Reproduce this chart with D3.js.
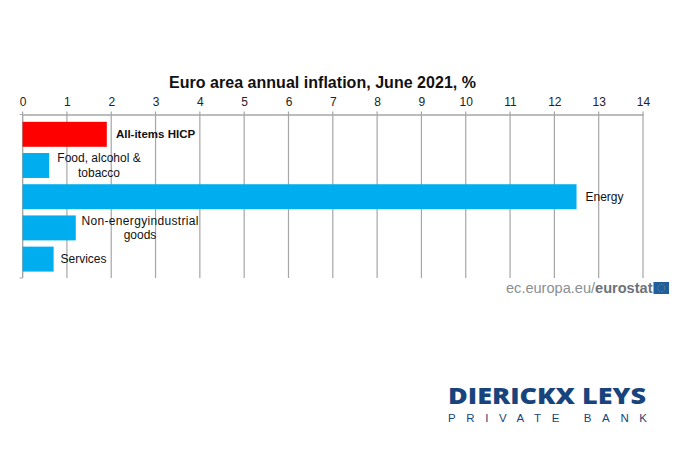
<!DOCTYPE html>
<html>
<head>
<meta charset="utf-8">
<script src="https://cdn.jsdelivr.net/npm/d3@7"></script>
<style>
  html, body { margin: 0; padding: 0; background: #fff; }
  text { font-family: "Liberation Sans", Arial, sans-serif; }
</style>
</head>
<body>
<div id="chart"></div>
<script>
// Values
const categories = ["All-items HICP", "Food, alcohol & tobacco", "Energy", "Non-energy industrial goods", "Services"];
const values = [1.9, 0.6, 12.5, 1.2, 0.7];
const xTicks = d3.range(0, 15);
const labelLines = [["All-items HICP"], ["Food, alcohol &", "tobacco"], ["Energy"], ["Non-energyindustrial", "goods"], ["Services"]];

const width = 679;
const height = 450;
const blue = "#00aeef";
const red = "#ff0000";
const grid = "#a6a6a6";

const svg = d3.select("#chart")
  .append("svg")
  .attr("width", width)
  .attr("height", height)
  .style("display", "block");

const x = d3.scaleLinear().domain([0, 14]).range([22.6, 643]);
const y = d3.scaleBand().domain(categories).range([118.7, 274.7]).paddingInner(0.2).paddingOuter(0.1);
const axisTop = 114.5;
const axisBottom = 278;

// Title
svg.append("text")
  .attr("x", 322.5)
  .attr("y", 88)
  .attr("text-anchor", "middle")
  .attr("font-size", 16)
  .attr("font-weight", "bold")
  .attr("fill", "#111")
  .attr("textLength", 307)
  .text("Euro area annual inflation, June 2021, %");

// Gridlines
svg.append("g")
  .selectAll("line")
  .data(xTicks)
  .enter()
  .append("line")
  .attr("x1", d => x(d))
  .attr("x2", d => x(d))
  .attr("y1", axisTop - 3)
  .attr("y2", axisBottom)
  .attr("stroke", grid)
  .attr("stroke-width", 1.2);

// Top axis
const xAxis = svg.append("g")
  .attr("transform", `translate(0,${axisTop})`)
  .call(d3.axisTop(x).tickValues(xTicks).tickSize(0).tickPadding(9).tickFormat(d3.format("d")));
xAxis.select(".domain").attr("stroke", grid).attr("stroke-width", 1.5);
xAxis.selectAll("text").attr("font-size", 12).attr("fill", "#222").style("font-family", '"Liberation Sans", Arial, sans-serif');

// Left axis stub with ticks
svg.append("line")
  .attr("x1", x(0)).attr("x2", x(0))
  .attr("y1", axisTop).attr("y2", axisBottom)
  .attr("stroke", grid).attr("stroke-width", 1.2);
svg.selectAll("line.stub")
  .data([axisTop, axisBottom])
  .enter()
  .append("line")
  .attr("class", "stub")
  .attr("x1", x(0) - 3).attr("x2", x(0))
  .attr("y1", d => d).attr("y2", d => d)
  .attr("stroke", grid).attr("stroke-width", 1);

// Bars
svg.append("g")
  .selectAll("rect")
  .data(categories)
  .enter()
  .append("rect")
  .attr("x", x(0))
  .attr("y", d => y(d))
  .attr("width", (d, i) => x(values[i]) - x(0))
  .attr("height", y.bandwidth())
  .attr("fill", (d, i) => i === 0 ? red : blue);

// Bar labels, centred a little right of each bar end
const labelCentre = [155.5, 99, 604.5, 140, 83.5];
const labels = svg.append("g");
categories.forEach((c, i) => {
  const lines = labelLines[i];
  const mid = y(c) + y.bandwidth() / 2;
  lines.forEach((line, j) => {
    const t = labels.append("text")
      .attr("x", labelCentre[i])
      .attr("y", mid + 4 + (j - (lines.length - 1) / 2) * 14.5)
      .attr("text-anchor", "middle")
      .attr("font-size", i === 0 ? 11.5 : 12)
      .attr("font-weight", i === 0 ? "bold" : "normal")
      .attr("fill", "#111")
      .text(line);
    if (line === "Non-energyindustrial") t.attr("textLength", 117);
  });
});

// Eurostat mark, one text so the two weights sit flush
const source = svg.append("text")
  .attr("x", 506).attr("y", 293)
  .attr("font-size", 15.5)
  .attr("textLength", 146.5)
  .attr("lengthAdjust", "spacingAndGlyphs");
source.append("tspan").attr("fill", "#8a8f94").text("ec.europa.eu/");
source.append("tspan").attr("fill", "#6d7278").attr("font-weight", "bold").text("eurostat");
svg.append("rect")
  .attr("x", 653.5).attr("y", 282)
  .attr("width", 15.5).attr("height", 12)
  .attr("fill", "#1f5f9e");
svg.append("g")
  .selectAll("circle")
  .data(d3.range(12))
  .enter()
  .append("circle")
  .attr("cx", d => 661.2 + 3.6 * Math.sin(d * Math.PI / 6))
  .attr("cy", d => 288 + 3.6 * Math.cos(d * Math.PI / 6))
  .attr("r", 0.4)
  .attr("fill", "#d9c94a");

// Bank logo
svg.append("text")
  .attr("x", 448).attr("y", 404)
  .attr("font-size", 23.5)
  .attr("font-weight", 800)
  .attr("fill", "#17447c")
  .attr("textLength", 198)
  .attr("lengthAdjust", "spacingAndGlyphs")
  .style("font-family", '"Open Sans", sans-serif')
  .text("DIERICKX LEYS");
svg.append("text")
  .attr("x", 448).attr("y", 422)
  .attr("font-size", 11.5)
  .attr("fill", "#17447c")
  .attr("textLength", 199)
  .attr("lengthAdjust", "spacing")
  .text("PRIVATE BANK");
</script>
</body>
</html>
